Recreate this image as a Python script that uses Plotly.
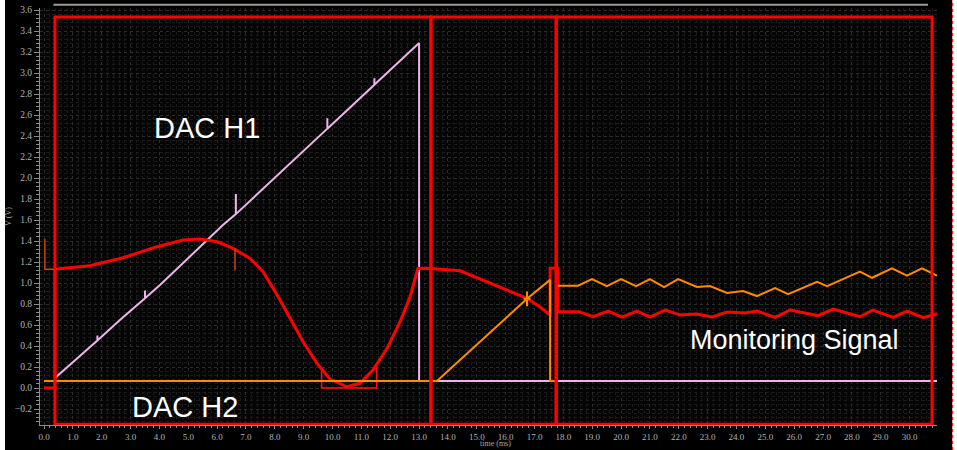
import plotly.graph_objects as go

# ---------------- data (time in ms, voltage in V) ----------------
# DAC H1 ramp (pink), with small glitches
pink_t = [0.38, 1.85, 1.85, 1.85, 2.63, 3.50, 3.50, 3.50, 4.02, 6.20, 6.65, 6.65, 6.65,
          9.82, 9.82, 9.82, 11.45, 11.45, 11.45, 13.00, 13.00, 30.95]
pink_v = [0.095, 0.453, 0.50, 0.453, 0.648, 0.854, 0.93, 0.854, 0.981, 1.552, 1.656, 1.848, 1.656,
          2.470, 2.57, 2.470, 2.888, 2.95, 2.888, 3.286, 0.067, 0.067]

# red signal (DAC H2 / monitoring)
red_t = [0.0, 0.38, 0.38, 0.44, 1.59, 2.74, 3.92, 4.82, 5.41, 6.00, 6.55, 7.14, 7.59, 8.08,
         8.53, 8.98, 9.46, 9.91, 10.50, 10.95, 11.40, 11.89, 12.34, 12.69, 12.96,
         13.41, 14.42, 15.46, 16.74, 17.19, 17.54, 17.54, 17.82, 17.82, 18.54,
         19.03, 19.55, 20.03, 20.55, 21.00, 21.53, 22.05, 22.63, 23.15, 23.67, 24.30, 24.71,
         25.34, 25.86, 26.83, 27.35, 28.28, 28.73, 29.43, 29.91, 30.47, 30.95]
red_v = [0.0, 0.0, 1.13, 1.133, 1.165, 1.241, 1.346, 1.410, 1.419, 1.393, 1.330, 1.235, 1.108, 0.886,
         0.664, 0.441, 0.235, 0.086, 0.012, 0.045, 0.171, 0.378, 0.631, 0.870, 1.140,
         1.138, 1.117, 0.997, 0.854, 0.771, 0.695, 1.14, 1.14, 0.727, 0.727,
         0.679, 0.733, 0.676, 0.733, 0.676, 0.743, 0.695, 0.705, 0.676, 0.724, 0.714, 0.733,
         0.673, 0.743, 0.689, 0.752, 0.679, 0.743, 0.673, 0.733, 0.670, 0.705]

# thin red quantised trace near the trough
red_thin_t = [9.62, 9.62, 11.53, 11.53]
red_thin_v = [0.19, 0.0, 0.0, 0.22]

# dark red glitches
brown_t = [0.03, 0.03, 0.45, None, 6.62, 6.62]
brown_v = [1.42, 1.13, 1.13, None, 1.33, 1.12]

# orange signal
orange_t = [0.0, 13.62, 15.11, 16.74, 17.54, 17.54, 17.76, 17.76, 18.51, 18.99, 19.51, 20.00,
            20.52, 21.00, 21.49, 21.98, 22.63, 23.08, 23.67, 24.23, 24.71, 25.34, 25.79,
            26.79, 27.14, 28.28, 28.70, 29.39, 29.91, 30.43, 30.95,
            None, 16.74, 16.74, None, 16.62, 16.86]
orange_v = [0.067, 0.067, 0.44, 0.85, 1.03, 0.067, 0.067, 0.975, 0.975, 1.038, 0.971, 1.038,
            0.971, 1.038, 0.962, 1.038, 0.962, 0.971, 0.905, 0.924, 0.876, 0.952, 0.895,
            1.012, 0.971, 1.108, 1.050, 1.140, 1.070, 1.140, 1.070,
            None, 0.78, 0.92, None, 0.85, 0.85]

# phase boundaries (ms) marked by red boxes
phase_edges = [0.38, 13.41, 17.75, 30.78]

labels = [("DAC H1", 5.65, 2.476, 29), ("DAC H2", 4.89, -0.181, 29),
          ("Monitoring Signal", 26.0, 0.457, 27)]

# ---------------- figure ----------------
fig = go.Figure()
fig.add_trace(go.Scatter(x=pink_t, y=pink_v, mode="lines",
                         line=dict(color="#ecb4e8", width=2), hoverinfo="skip"))
fig.add_trace(go.Scatter(x=red_thin_t, y=red_thin_v, mode="lines",
                         line=dict(color="#ff1010", width=1.5), hoverinfo="skip"))
fig.add_trace(go.Scatter(x=red_t, y=red_v, mode="lines",
                         line=dict(color="#ff0000", width=3), hoverinfo="skip"))
fig.add_trace(go.Scatter(x=brown_t, y=brown_v, mode="lines", connectgaps=False,
                         line=dict(color="#c84418", width=1.5), hoverinfo="skip"))
fig.add_trace(go.Scatter(x=orange_t, y=orange_v, mode="lines", connectgaps=False,
                         line=dict(color="#ff8a00", width=2), hoverinfo="skip"))

shapes = []
for a, b in zip(phase_edges[:-1], phase_edges[1:]):
    shapes.append(dict(type="rect", xref="x", yref="y", x0=a, x1=b, y0=-0.345, y1=3.533,
                       line=dict(color="#ff0000", width=3), layer="above"))
# white outer strips and top bar of the viewer window
shapes.append(dict(type="rect", xref="paper", yref="paper", x0=-0.06, x1=-0.039, y0=-0.1, y1=1.1,
                   line=dict(width=0), fillcolor="white"))
shapes.append(dict(type="rect", xref="paper", yref="paper", x0=1.017, x1=1.05, y0=-0.1, y1=1.1,
                   line=dict(width=0), fillcolor="white"))
shapes.append(dict(type="line", xref="paper", yref="paper", x0=0.015, x1=0.99, y0=1.0075, y1=1.0075,
                   line=dict(color="#9a9a9a", width=2)))
shapes.append(dict(type="line", xref="paper", yref="paper", x0=1.0175, x1=1.0175, y0=-0.06, y1=1.02,
                   line=dict(color="#ff0000", width=1, dash="dot")))

annotations = [dict(text=t, x=x, y=y, xref="x", yref="y", showarrow=False,
                    font=dict(family="Liberation Sans, Arial", size=s, color="white"))
               for t, x, y, s in labels]
# x-axis title placed just below the tick labels
annotations.append(dict(text="time (ms)", xref="paper", yref="paper", x=0.508, y=-0.0575,
                        xanchor="center", yanchor="bottom", showarrow=False, borderpad=0,
                        font=dict(family="Liberation Serif", size=8, color="#a8a8a8")))

tickfont_y = dict(family="Liberation Serif, Times New Roman, serif", size=9.5, color="#b4b4b4")
tickfont_x = dict(family="Liberation Serif, Times New Roman, serif", size=9, color="#b4b4b4")
fig.update_layout(
    width=957, height=450,
    margin=dict(l=40, r=20, t=8, b=25, autoexpand=False),
    paper_bgcolor="black", plot_bgcolor="#050505",
    showlegend=False,
    shapes=shapes, annotations=annotations,
    xaxis=dict(range=[-0.139, 30.95], tick0=0, dtick=1, tickformat=".1f", automargin=False,
               ticks="outside", ticklen=3, tickcolor="#8a8a8a", tickfont=tickfont_x,
               showline=True, linecolor="#8a8a8a", zeroline=False,
               showgrid=True, gridcolor="#2c2c2c", griddash="dot", gridwidth=1,
               minor=dict(dtick=0.2, ticks="outside", ticklen=2, tickcolor="#8a8a8a",
                          showgrid=True, gridcolor="#1a1a1a", griddash="dot")),
    yaxis=dict(range=[-0.352, 3.619], tick0=0, dtick=0.2, tickformat=".1f", automargin=False,
               ticks="outside", ticklen=5, tickcolor="#8a8a8a", tickfont=tickfont_y,
               showline=True, linecolor="#8a8a8a", zeroline=False,
               showgrid=True, gridcolor="#2c2c2c", griddash="dot", gridwidth=1,
               minor=dict(dtick=0.04, ticks="outside", ticklen=3, tickcolor="#8a8a8a",
                          showgrid=True, gridcolor="#1a1a1a", griddash="dot"),
               title=dict(text="V (V)", font=dict(family="Liberation Serif", size=8, color="#a8a8a8"),
                          standoff=2)),
)

fig.write_html("out.html", config={"displayModeBar": False},
               post_script="document.body.style.margin='0';document.body.style.background='black';"
                           "document.body.style.overflow='hidden';")
